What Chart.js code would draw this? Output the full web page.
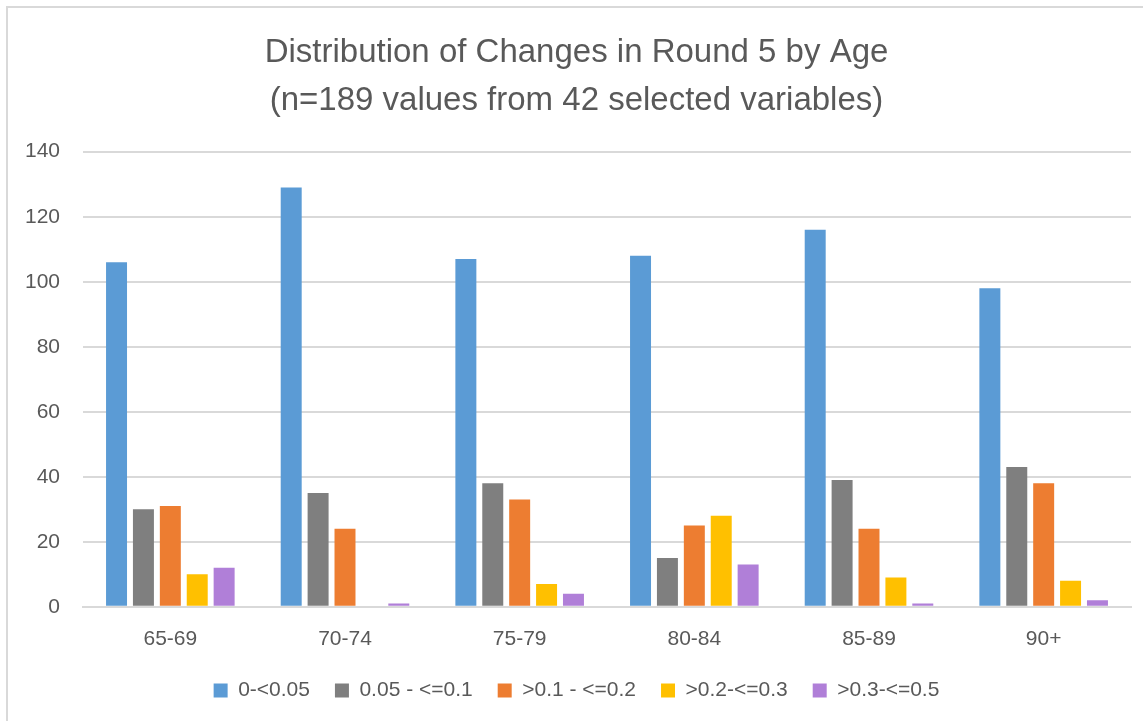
<!DOCTYPE html>
<html>
<head>
<meta charset="utf-8">
<script src="https://cdn.jsdelivr.net/npm/chart.js@4/dist/chart.umd.min.js"></script>
<style>
    html, body { margin: 0; padding: 0; background: #fff; }
    #frame {
        position: absolute;
        left: 6px;
        top: 6px;
        width: 1137px;
        height: 715px;
        border-top: 2px solid #d9d9d9;
        border-left: 2px solid #d9d9d9;
        box-sizing: border-box;
    }
    #wrap { position: absolute; left: 0; top: 0; width: 1143px; height: 721px; }
</style>
</head>
<body>
<div id="frame"></div>
<div id="wrap"><canvas id="chart"></canvas></div>
<script>
// Age groups and value bins
const ageGroups = ['65-69', '70-74', '75-79', '80-84', '85-89', '90+'];
const binLabels = ['0-<0.05', '0.05 - <=0.1', '>0.1 - <=0.2', '>0.2-<=0.3', '>0.3-<=0.5'];

// counts per age group, one array per bin
const bin1 = [106, 129, 107, 108, 116, 98];
const bin2 = [30, 35, 38, 15, 39, 43];
const bin3 = [31, 24, 33, 25, 24, 38];
const bin4 = [10, 0, 7, 28, 9, 8];
const bin5 = [12, 1, 4, 13, 1, 2];

const binColors = ['#5b9bd5', '#7f7f7f', '#ed7d31', '#ffc000', '#b07fd8'];
const textColor = '#595959';

const datasets = [bin1, bin2, bin3, bin4, bin5].map((vals, i) => ({
    label: binLabels[i],
    data: vals,
    backgroundColor: binColors[i],
    borderWidth: 0,
    categoryPercentage: 0.77,
    barPercentage: 0.78
}));

Chart.defaults.font.family = "'Liberation Sans', Arial, sans-serif";
Chart.defaults.color = textColor;

new Chart(document.getElementById('chart'), {
    type: 'bar',
    data: {
        labels: ageGroups,
        datasets: datasets
    },
    options: {
        responsive: true,
        maintainAspectRatio: false,
        animation: false,
        layout: {
            padding: { left: 22, right: 12, top: 10, bottom: 10 }
        },
        plugins: {
            title: {
                display: true,
                text: ['Distribution of Changes in Round 5 by Age', '(n=189 values from 42 selected variables)'],
                color: textColor,
                font: { size: 33, weight: 'normal', lineHeight: 1.45 },
                padding: { top: 19, bottom: 27 }
            },
            legend: {
                position: 'bottom',
                labels: {
                    boxWidth: 14,
                    boxHeight: 14,
                    color: textColor,
                    font: { size: 21 },
                    padding: 25
                }
            },
            tooltip: { enabled: false }
        },
        scales: {
            x: {
                grid: { display: false },
                border: { color: '#d9d9d9', width: 2 },
                ticks: { color: textColor, font: { size: 21 }, padding: 12 },
                afterFit: (scale) => { scale.height -= 9; }
            },
            y: {
                min: 0,
                max: 140,
                ticks: { stepSize: 20, color: textColor, font: { size: 21 }, padding: 23 },
                grid: { color: '#d9d9d9', lineWidth: 2, drawTicks: false },
                border: { display: false },
                afterFit: (scale) => { scale.width = 61; }
            }
        }
    }
});
</script>
</body>
</html>
